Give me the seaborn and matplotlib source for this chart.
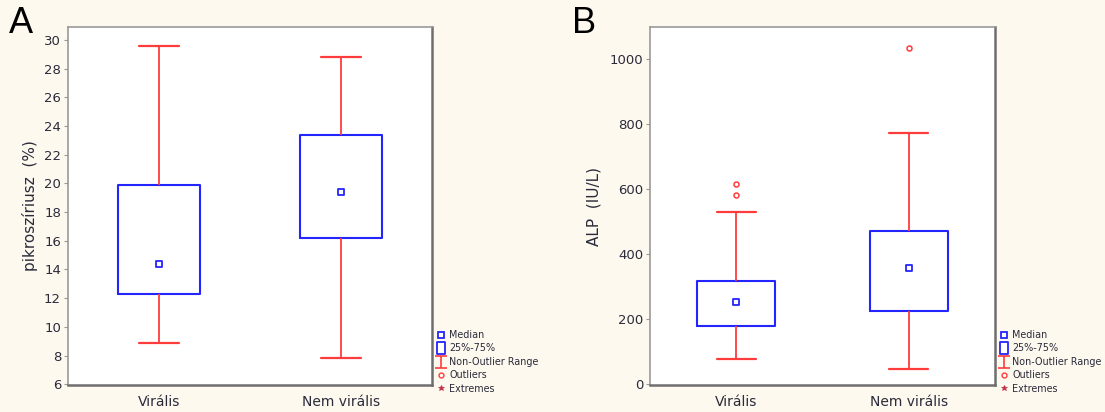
import numpy as np
import pandas as pd
import matplotlib
matplotlib.use("Agg")
import matplotlib.pyplot as plt
import seaborn as sns
from matplotlib.lines import Line2D
from matplotlib.path import Path

# ---- data -------------------------------------------------------------
groups = ["Virális", "Nem virális"]

# Panel A: pikroszíriusz (%) -- non-outlier range, quartiles, median
pik_low = [8.9, 7.8]
pik_q1 = [12.3, 16.2]
pik_median = [14.4, 19.4]
pik_q3 = [19.9, 23.4]
pik_high = [29.6, 28.8]
pik_ticks = [6, 8, 10, 12, 14, 16, 18, 20, 22, 24, 26, 28, 30]

# Panel B: ALP (IU/L)
alp_low = [76, 44]
alp_q1 = [178, 225]
alp_median = [253, 357]
alp_q3 = [318, 471]
alp_high = [528, 772]
alp_outlier_group = ["Virális", "Virális", "Nem virális"]
alp_outlier_value = [582, 616, 1036]
alp_ticks = [0, 200, 400, 600, 800, 1000]

legend_labels = ["Median", "25%-75%", "Non-Outlier Range", "Outliers", "Extremes"]

# ---- style ------------------------------------------------------------
sns.set_style("white")
plt.rcParams["font.family"] = ["DejaVu Sans"]

BG = "#FDF9EF"
BLUE = "#2424FF"
RED = "#FF3C3C"
TXT = "#2A2A3A"


def summary_frame(low, q1, med, q3, high):
    rows = []
    for g, vals in zip(groups, zip(low, q1, med, q3, high)):
        for v in vals:
            rows.append({"group": g, "value": v})
    return pd.DataFrame(rows)


def style_axes(ax, ylabel, labelpad):
    ax.set_xlabel("")
    ax.set_xlim(-0.5, 1.5)
    ax.set_ylabel(ylabel, fontsize=11, color=TXT, labelpad=labelpad)
    ax.tick_params(axis="y", which="both", left=True, length=3, width=0.8,
                   color="#999999", labelsize=9.5, labelcolor=TXT, pad=2)
    ax.tick_params(axis="x", bottom=False, labelsize=10, labelcolor=TXT, pad=4)
    ax.set_facecolor("white")
    for side in ["top", "left"]:
        ax.spines[side].set_color("#9A9A9A")
        ax.spines[side].set_linewidth(1.2)
    for side in ["bottom", "right"]:
        ax.spines[side].set_color("#6E6E6E")
        ax.spines[side].set_linewidth(1.8)


def draw_panel(ax, low, q1, med, q3, high, ylim, ticks):
    df = summary_frame(low, q1, med, q3, high)
    sns.boxplot(
        data=df, x="group", y="value", order=groups, ax=ax,
        whis=np.inf, width=0.45, fill=False, color=BLUE, linewidth=1.5,
        showfliers=False,
        whiskerprops=dict(color=RED, linewidth=1.3),
        capprops=dict(color=RED, linewidth=1.6),
        medianprops=dict(visible=False),
    )
    med_df = pd.DataFrame({"group": groups, "value": med})
    sns.stripplot(
        data=med_df, x="group", y="value", order=groups, ax=ax,
        jitter=False, marker="s", size=5, color="white",
        edgecolor=BLUE, linewidth=1.3, zorder=5,
    )
    ax.set_ylim(*ylim)
    ax.set_yticks(ticks)


def legend_handles():
    ibeam = Path(
        [(-1, 1), (1, 1), (0, 1), (0, -1), (-1, -1), (1, -1)],
        [Path.MOVETO, Path.LINETO, Path.MOVETO, Path.LINETO, Path.MOVETO, Path.LINETO],
    )
    rect = Path(
        [(-0.7, -1), (0.7, -1), (0.7, 1), (-0.7, 1), (-0.7, -1)],
        [Path.MOVETO, Path.LINETO, Path.LINETO, Path.LINETO, Path.CLOSEPOLY],
    )
    return [
        Line2D([], [], ls="none", marker="s", ms=4.5, mfc="white", mec=BLUE, mew=1.3),
        Line2D([], [], ls="none", marker=rect, ms=9, mfc="white", mec=BLUE, mew=1.3),
        Line2D([], [], ls="none", marker=ibeam, ms=8, mfc="none", mec=RED, mew=1.2),
        Line2D([], [], ls="none", marker="o", ms=3.5, mfc="white", mec=RED, mew=1.0),
        Line2D([], [], ls="none", marker="*", ms=4, mfc="#C03048", mec="#C03048", mew=0.5),
    ]


fig = plt.figure(figsize=(11.05, 4.12), dpi=100, facecolor=BG)
W, H = 1105, 412
axA = fig.add_axes([68 / W, 1 - 385 / H, 364 / W, 358 / H])
axB = fig.add_axes([650 / W, 1 - 385 / H, 345 / W, 358 / H])

draw_panel(axA, pik_low, pik_q1, pik_median, pik_q3, pik_high,
           (5.95, 30.9), pik_ticks)
draw_panel(axB, alp_low, alp_q1, alp_median, alp_q3, alp_high,
           (-4, 1100), alp_ticks)

out_df = pd.DataFrame({"group": alp_outlier_group, "value": alp_outlier_value})
sns.stripplot(
    data=out_df, x="group", y="value", order=groups, ax=axB,
    jitter=False, marker="o", size=3.6, color="white",
    edgecolor=RED, linewidth=1.1, zorder=5,
)

style_axes(axA, "pikroszíriusz  (%)", labelpad=4)
style_axes(axB, "ALP  (IU/L)", labelpad=6)

for ax, left in [(axA, 437), (axB, 1000)]:
    ax.legend(
        legend_handles(), legend_labels, loc="upper left",
        bbox_to_anchor=(left / W, 1 - 330 / H), bbox_transform=fig.transFigure,
        frameon=False, fontsize=6.9, handlelength=0.9, handletextpad=0.4,
        labelspacing=0.36, borderpad=0, borderaxespad=0, labelcolor=TXT,
    )

fig.text(9 / W, 1 - 6 / H, "A", fontsize=26, va="top", ha="left",
         color="black", family="Liberation Sans")
fig.text(572 / W, 1 - 6 / H, "B", fontsize=26, va="top", ha="left",
         color="black", family="Liberation Sans")

fig.savefig("out.png", dpi=100, facecolor=BG)
